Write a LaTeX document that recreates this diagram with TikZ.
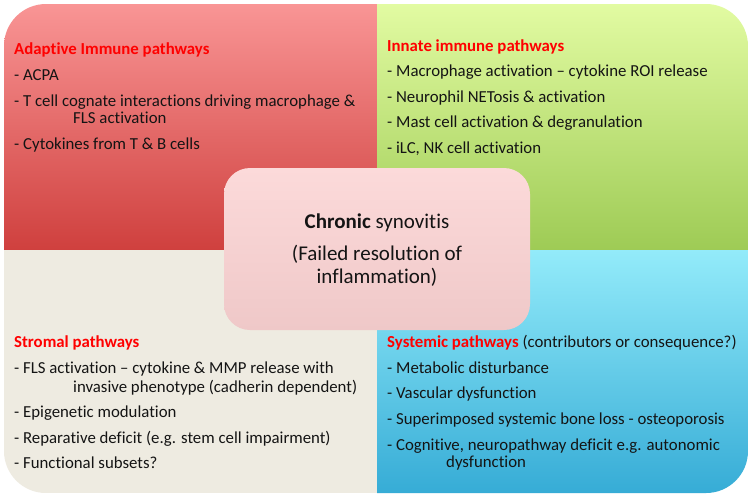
\documentclass[tikz,border=0pt]{standalone}
\usepackage{fontspec}
\setmainfont[RawFeature={-liga;-calt;-dlig}]{Carlito}
\definecolor{redtop}{HTML}{F99595}
\definecolor{redbot}{HTML}{CF403E}
\definecolor{grntop}{HTML}{E2FBA2}
\definecolor{grnbot}{HTML}{9ECB55}
\definecolor{blutop}{HTML}{93EBFA}
\definecolor{blubot}{HTML}{36ACD6}
\definecolor{beige}{HTML}{EEEBE1}
\definecolor{pinktop}{HTML}{FCDADA}
\definecolor{pinkbot}{HTML}{EFC8C8}
\definecolor{headred}{HTML}{FF0000}
\definecolor{txt}{HTML}{141414}
\tikzset{
  item/.style={anchor=base west, inner sep=0pt, font=\fontsize{16.8}{20}\selectfont, text=txt},
  head/.style={item, font=\fontsize{16.8}{20}\selectfont\bfseries, text=headred},
  centre/.style={anchor=base, inner sep=0pt, font=\fontsize{21}{25}\selectfont, text=txt}
}
\begin{document}
\begin{tikzpicture}[x=1pt,y=-1pt]
\useasboundingbox (0,0) rectangle (754,499);
\fill[white] (0,0) rectangle (754,499);
\begin{scope}
\clip[rounded corners=42pt] (4,4) rectangle (748,493);
\shade[top color=redtop, bottom color=redbot] (4,4) rectangle (377,250);
\shade[top color=grntop, bottom color=grnbot] (377,4) rectangle (748,250);
\fill[beige] (4,250) rectangle (377,493);
\shade[top color=blutop, bottom color=blubot] (377,250) rectangle (748,493);
\end{scope}
\shade[rounded corners=26pt, top color=pinktop, bottom color=pinkbot] (224,168) rectangle (530,330);

% top-left
\node[head] (h1) at (14,54) {Adaptive Immune pathways};
\node[item] (a1) at (14,80) {- ACPA};
\node[item] (a2) at (14,106) {- T cell cognate interactions driving macrophage \&};
\node[item] (a2b) at (73,123) {FLS activation};
\node[item] (a3) at (14,149) {- Cytokines from T \& B cells};

% top-right
\node[head] (h2) at (387,51) {Innate immune pathways};
\node[item] (b1) at (387,76) {- Macrophage activation – cytokine ROI release};
\node[item] (b2) at (387,102) {- Neurophil NETosis \& activation};
\node[item] (b3) at (387,127) {- Mast cell activation \& degranulation};
\node[item] (b4) at (387,153) {- iLC, NK cell activation};

% bottom-left
\node[head] (h3) at (14,347) {Stromal pathways};
\node[item] (c1) at (14,373) {- FLS activation – cytokine \& MMP release with};
\node[item] (c1b) at (73,392) {invasive phenotype (cadherin dependent)};
\node[item] (c2) at (14,417) {- Epigenetic modulation};
\node[item] (c3) at (14,443) {- Reparative deficit (e.g. stem cell impairment)};
\node[item] (c4) at (14,468) {- Functional subsets?};

% bottom-right
\node[item] (h4) at (387,347) {{\bfseries\color{headred}Systemic pathways} (contributors or consequence?)};
\node[item] (d1) at (387,373) {- Metabolic disturbance};
\node[item] (d2) at (387,398) {- Vascular dysfunction};
\node[item] (d3) at (387,424) {- Superimposed systemic bone loss - osteoporosis};
\node[item] (d4) at (387,450) {- Cognitive, neuropathway deficit e.g. autonomic};
\node[item] (d4b) at (446,467) {dysfunction};

% centre
\node[centre] (m1) at (377,228) {\textbf{Chronic} synovitis};
\node[centre] (m2) at (377,260) {(Failed resolution of};
\node[centre] (m3) at (377,283) {inflammation)};
\end{tikzpicture}
\end{document}
